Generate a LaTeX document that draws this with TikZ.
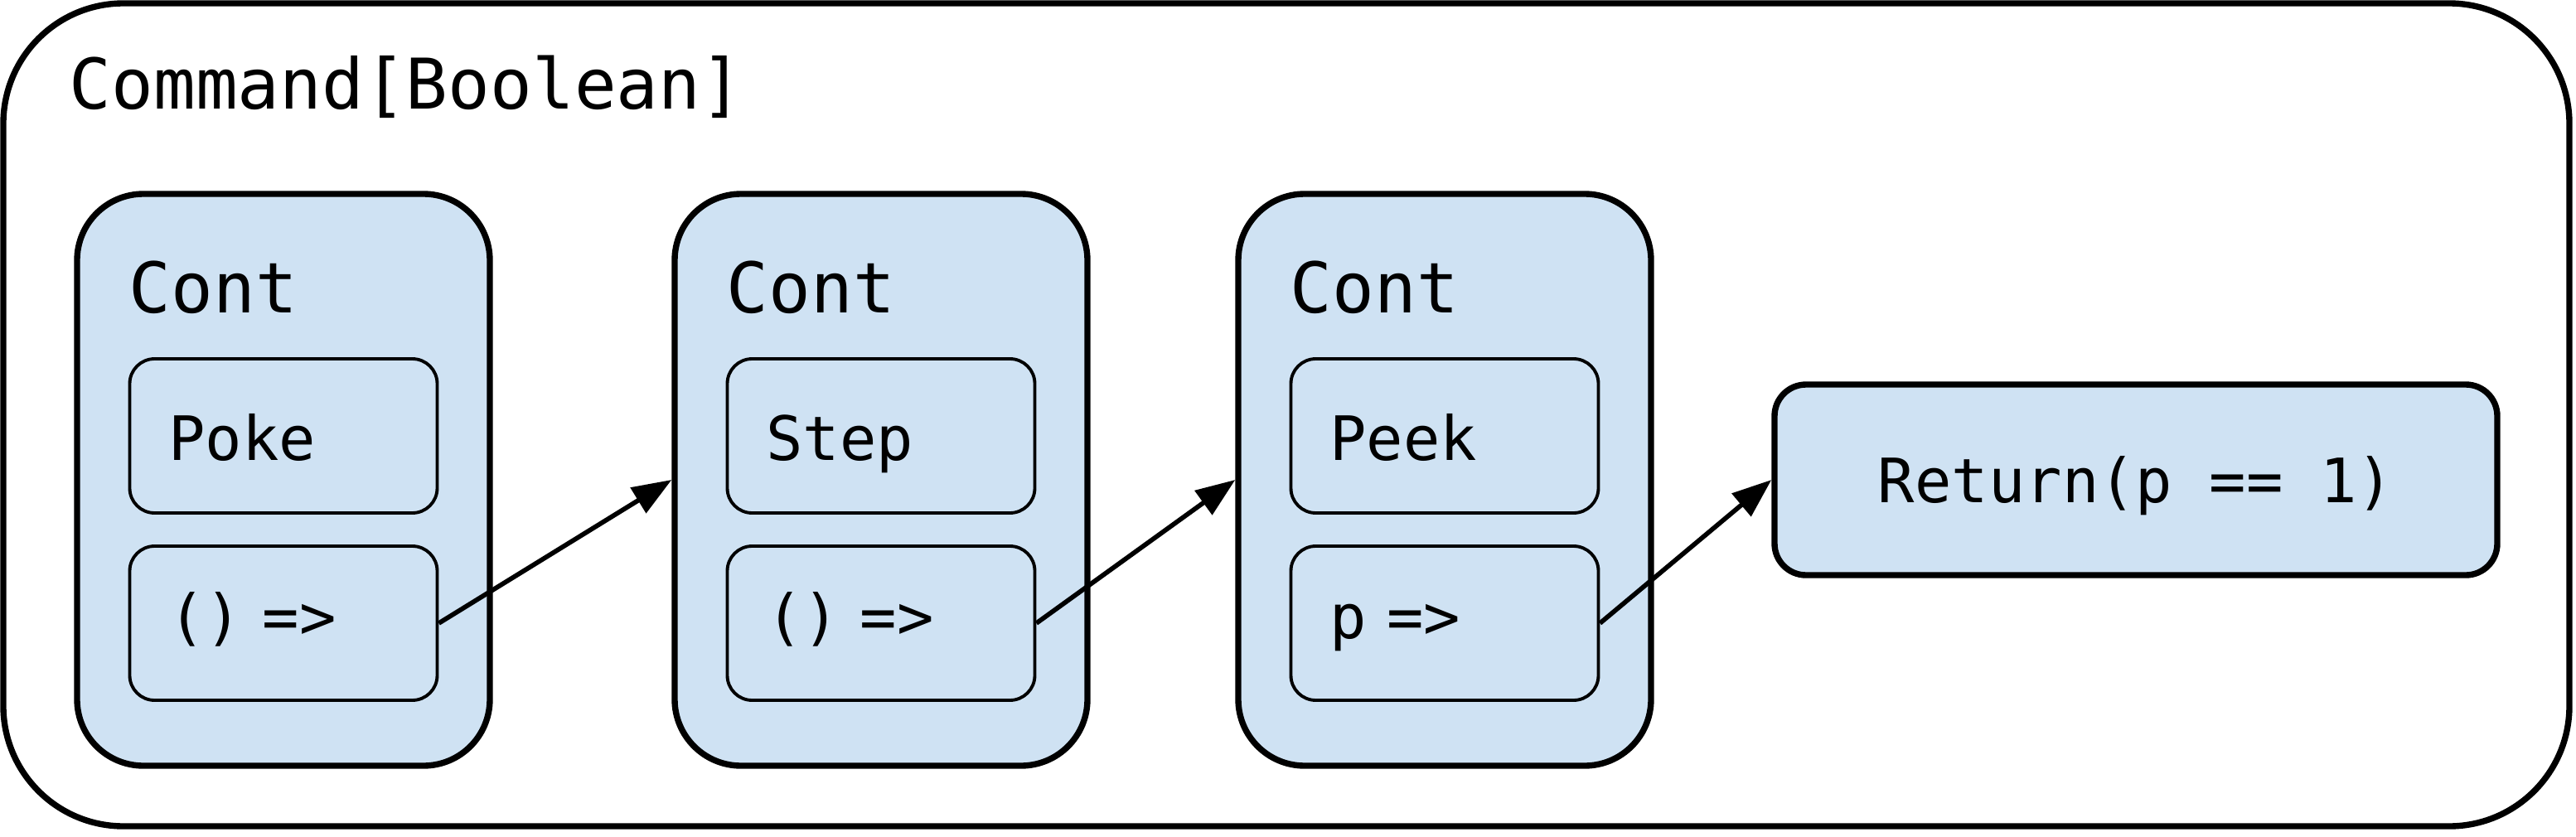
\documentclass[tikz,border=0pt]{standalone}
\usepackage{fontspec}
\setmonofont{DejaVu Sans Mono}
\usepackage{tikz}
\usetikzlibrary{arrows.meta}
\usepackage{xcolor}
\definecolor{contblue}{HTML}{CFE2F3}

\begin{document}
\begin{tikzpicture}[>={Triangle[length=13.5pt,width=10pt]},font=\ttfamily,line join=round,
  contbox/.style={draw,line width=2.1pt,fill=contblue,rounded corners=0.8cm,minimum width=4.98cm,minimum height=6.9cm,inner sep=0pt},
  innerbox/.style={draw,line width=1.1pt,fill=contblue,rounded corners=0.3cm,minimum height=1.86cm,inner xsep=0.47cm,inner ysep=0pt,text width=2.77cm,align=left,text height=0.58cm,text depth=0pt,font=\ttfamily\fontsize{21}{25}\selectfont},
  fnbox/.style={innerbox,text height=0.36cm},
  contlabel/.style={anchor=base west,inner sep=0pt,font=\ttfamily\fontsize{24}{28}\selectfont}]
\useasboundingbox (0,0) rectangle (31.08,10.09);
\draw[line width=2.1pt,rounded corners=1.45cm] (0.04,0.12) rectangle (31.0,10.05);
\node[contlabel] (cmd) at (0.83,8.78) {Command[Boolean]};
% three continuations
\node[contbox] (cont1) at (3.42,4.30) {};
\node[contbox] (cont2) at (10.63,4.30) {};
\node[contbox] (cont3) at (17.43,4.30) {};
\node[contlabel] (cont1l) at (1.55,6.32) {Cont};
\node[contlabel] (cont2l) at (8.76,6.32) {Cont};
\node[contlabel] (cont3l) at (15.56,6.32) {Cont};
\node[innerbox] (poke) at (3.42,4.83) {Poke};
\node[fnbox] (pokefn) at (3.42,2.57) {() =>};
\node[innerbox] (step) at (10.63,4.83) {Step};
\node[fnbox] (stepfn) at (10.63,2.57) {() =>};
\node[innerbox] (peek) at (17.43,4.83) {Peek};
\node[fnbox] (peekfn) at (17.43,2.57) {p =>};
\node[draw,line width=2.1pt,fill=contblue,rounded corners=0.38cm,minimum width=8.72cm,minimum height=2.3cm,text height=0.55cm,text depth=0pt,font=\ttfamily\fontsize{21}{25}\selectfont] (ret) at (25.77,4.30) {Return(p == 1)};
\draw[->,line width=1.6pt] (pokefn.east) -- (cont2.west);
\draw[->,line width=1.6pt] (stepfn.east) -- (cont3.west);
\draw[->,line width=1.6pt] (peekfn.east) -- (ret.west);
\end{tikzpicture}
\end{document}
